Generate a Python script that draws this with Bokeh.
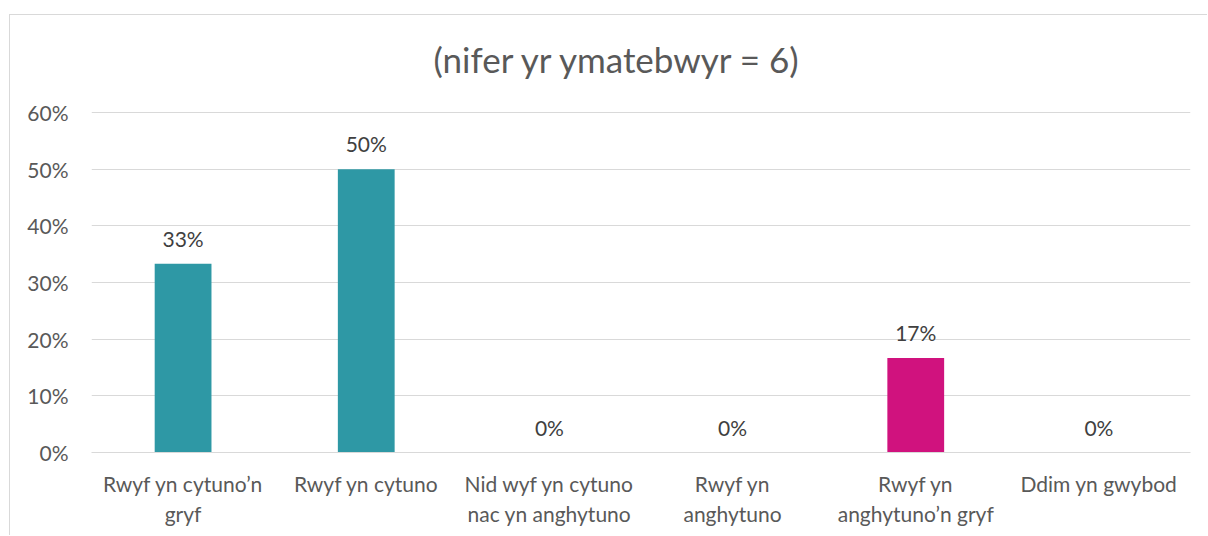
from bokeh.plotting import figure
from bokeh.models import ColumnDataSource, LabelSet, FixedTicker, NumeralTickFormatter, Range1d, FactorRange
from bokeh.core.properties import value
from bokeh.embed import file_html
from bokeh.resources import INLINE

# ---- data ----
title_text = "(nifer yr ymatebwyr = 6)"
categories = [
    "Rwyf yn cytuno\u2019n\ngryf",
    "Rwyf yn cytuno",
    "Nid wyf yn cytuno\nnac yn anghytuno",
    "Rwyf yn\nanghytuno",
    "Rwyf yn\nanghytuno\u2019n gryf",
    "Ddim yn gwybod",
]
values = [0.3333, 0.5, 0.0, 0.0, 0.1667, 0.0]
bar_colors = ["#2E98A5", "#2E98A5", "#2E98A5", "#2E98A5", "#D0127E", "#2E98A5"]
y_ticks = [0.0, 0.1, 0.2, 0.3, 0.4, 0.5, 0.6]

labels = [f"{round(v * 100):d}%" for v in values]
source = ColumnDataSource(dict(cat=categories, val=values, color=bar_colors, label=labels))

FONT = "Lato"
TXT = "#595959"

p = figure(
    x_range=FactorRange(*categories, range_padding=0),
    y_range=Range1d(0, 0.623),
    width=1198, height=521,
    output_backend="svg", toolbar_location=None,
    min_border_left=81, min_border_right=18, min_border_top=0, min_border_bottom=84,
    margin=(14, 0, 0, 9),
)
p.styles = {"border-left": "1px solid #d9d9d9", "border-top": "1px solid #d9d9d9"}
p.outline_line_color = None
p.background_fill_color = "white"
p.border_fill_color = "white"

p.title.text = title_text
p.title.align = "left"
p.title.offset = 342
p.title.text_font = FONT
p.title.text_font_size = "35px"
p.title.text_font_style = "normal"
p.title.text_color = TXT
p.title.standoff = 40

p.vbar(x="cat", top="val", width=0.31, color="color", source=source, line_color=None)

p.add_layout(LabelSet(x="cat", y="val", text="label", source=source, y_offset=17,
                      text_align="center", text_baseline="alphabetic",
                      text_font=value(FONT), text_font_size="21px", text_color="#404040"))

p.xgrid.visible = False
p.ygrid.grid_line_color = "#d9d9d9"
p.ygrid.grid_line_width = 1
p.yaxis.ticker = FixedTicker(ticks=y_ticks)
p.yaxis.formatter = NumeralTickFormatter(format="0%")
p.yaxis.axis_line_color = None
p.yaxis.major_tick_line_color = None
p.yaxis.minor_tick_line_color = None
p.yaxis.major_tick_out = 0
p.yaxis.major_label_standoff = 23
p.xaxis.axis_line_color = "#d9d9d9"
p.xaxis.major_tick_line_color = None
p.xaxis.minor_tick_line_color = None
p.xaxis.major_tick_out = 0
p.xaxis.major_label_standoff = 18
for ax in (p.xaxis, p.yaxis):
    ax.major_label_text_font = FONT
    ax.major_label_text_font_size = "21px"
    ax.major_label_text_color = TXT

open("out.html", "w").write(file_html(p, INLINE))
